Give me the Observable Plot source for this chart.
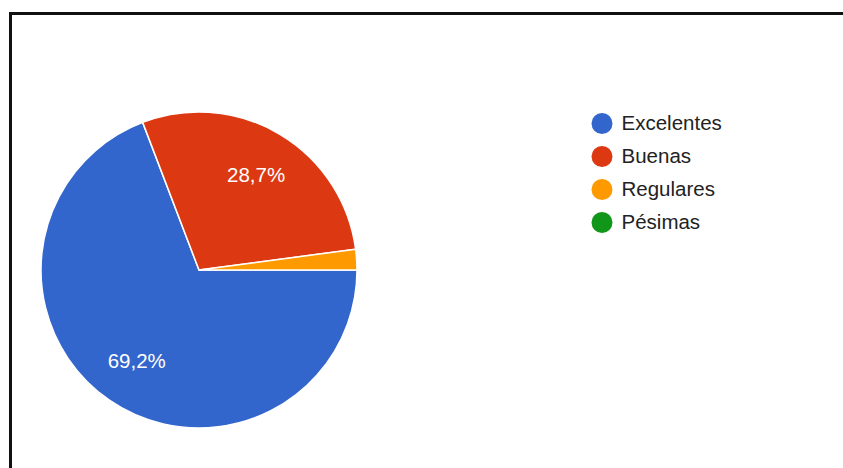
<!DOCTYPE html>
<html><head><meta charset="utf-8">
<script src="https://cdn.jsdelivr.net/npm/d3@7"></script>
<script src="https://cdn.jsdelivr.net/npm/@observablehq/plot@0.6"></script>
<style>
body{margin:0;background:#fff;overflow:hidden}
#chart{position:absolute;left:0;top:0}
#frame{position:absolute;left:9px;top:12px;width:900px;height:500px;border:3px solid #111;pointer-events:none;box-sizing:border-box}
</style></head><body>
<div id="chart"></div><div id="frame"></div>
<script>
const categories = ["Excelentes", "Buenas", "Regulares", "Pésimas"];
const values = [69.2, 28.7, 2.1, 0];
const sliceLabels = ["69,2%", "28,7%", "", ""];
const colors = ["#3366cc", "#dc3912", "#ff9900", "#109618"];

const W = 843, H = 468;
const cx = 199, cy = 270, R = 158;
const font = "'Liberation Sans', Arial, sans-serif";

const data = categories.map((c, i) => ({category: c, value: values[i], label: sliceLabels[i], i}));
const pie = d3.pie().value(d => d.value).sort(null)
  .startAngle(Math.PI / 2).endAngle(Math.PI / 2 + 2 * Math.PI);
const arcs = pie(data);
const labelArc = d3.arc().innerRadius(R * 0.7).outerRadius(R * 0.7);
const labelData = arcs.filter(a => a.data.label).map(a => {
  const [dx, dy] = labelArc.centroid(a);
  return {x: cx + dx, y: cy + dy, label: a.data.label};
});
const legendData = data.map(d => ({...d, ly: 123 + d.i * 33}));

function pieMark(...args) {
  const scales = args.find(a => a && typeof a.color === "function" && typeof a.x === "function");
  const x0 = scales.x(cx), y0 = scales.y(cy), r = scales.x(cx + R) - scales.x(cx);
  const arc = d3.arc().innerRadius(0).outerRadius(r);
  const g = d3.create("svg:g").attr("transform", `translate(${x0},${y0})`);
  g.selectAll("path").data(arcs.filter(a => a.data.value > 0)).join("path")
    .attr("d", arc)
    .attr("fill", a => scales.color(a.data.category))
    .attr("stroke", "#fff")
    .attr("stroke-width", 1.5)
    .attr("stroke-linejoin", "round");
  return g.node();
}

const chart = Plot.plot({
  width: W, height: H,
  margin: 0,
  x: {domain: [0, W], range: [0, W], axis: null},
  y: {domain: [0, H], range: [0, H], axis: null},
  color: {domain: categories, range: colors},
  style: {background: "transparent", fontFamily: font},
  marks: [
    pieMark,
    Plot.text(labelData, {x: "x", y: "y", text: "label", fill: "#fff", fontSize: 20.5, fontFamily: font}),
    Plot.dot(legendData, {x: () => 601.5, y: "ly", fill: "category", r: 10.5}),
    Plot.text(legendData, {x: () => 621, y: "ly", text: "category", textAnchor: "start", fill: "#222", fontSize: 20.5, fontFamily: font})
  ]
});
document.getElementById("chart").appendChild(chart);
</script>
</body></html>
